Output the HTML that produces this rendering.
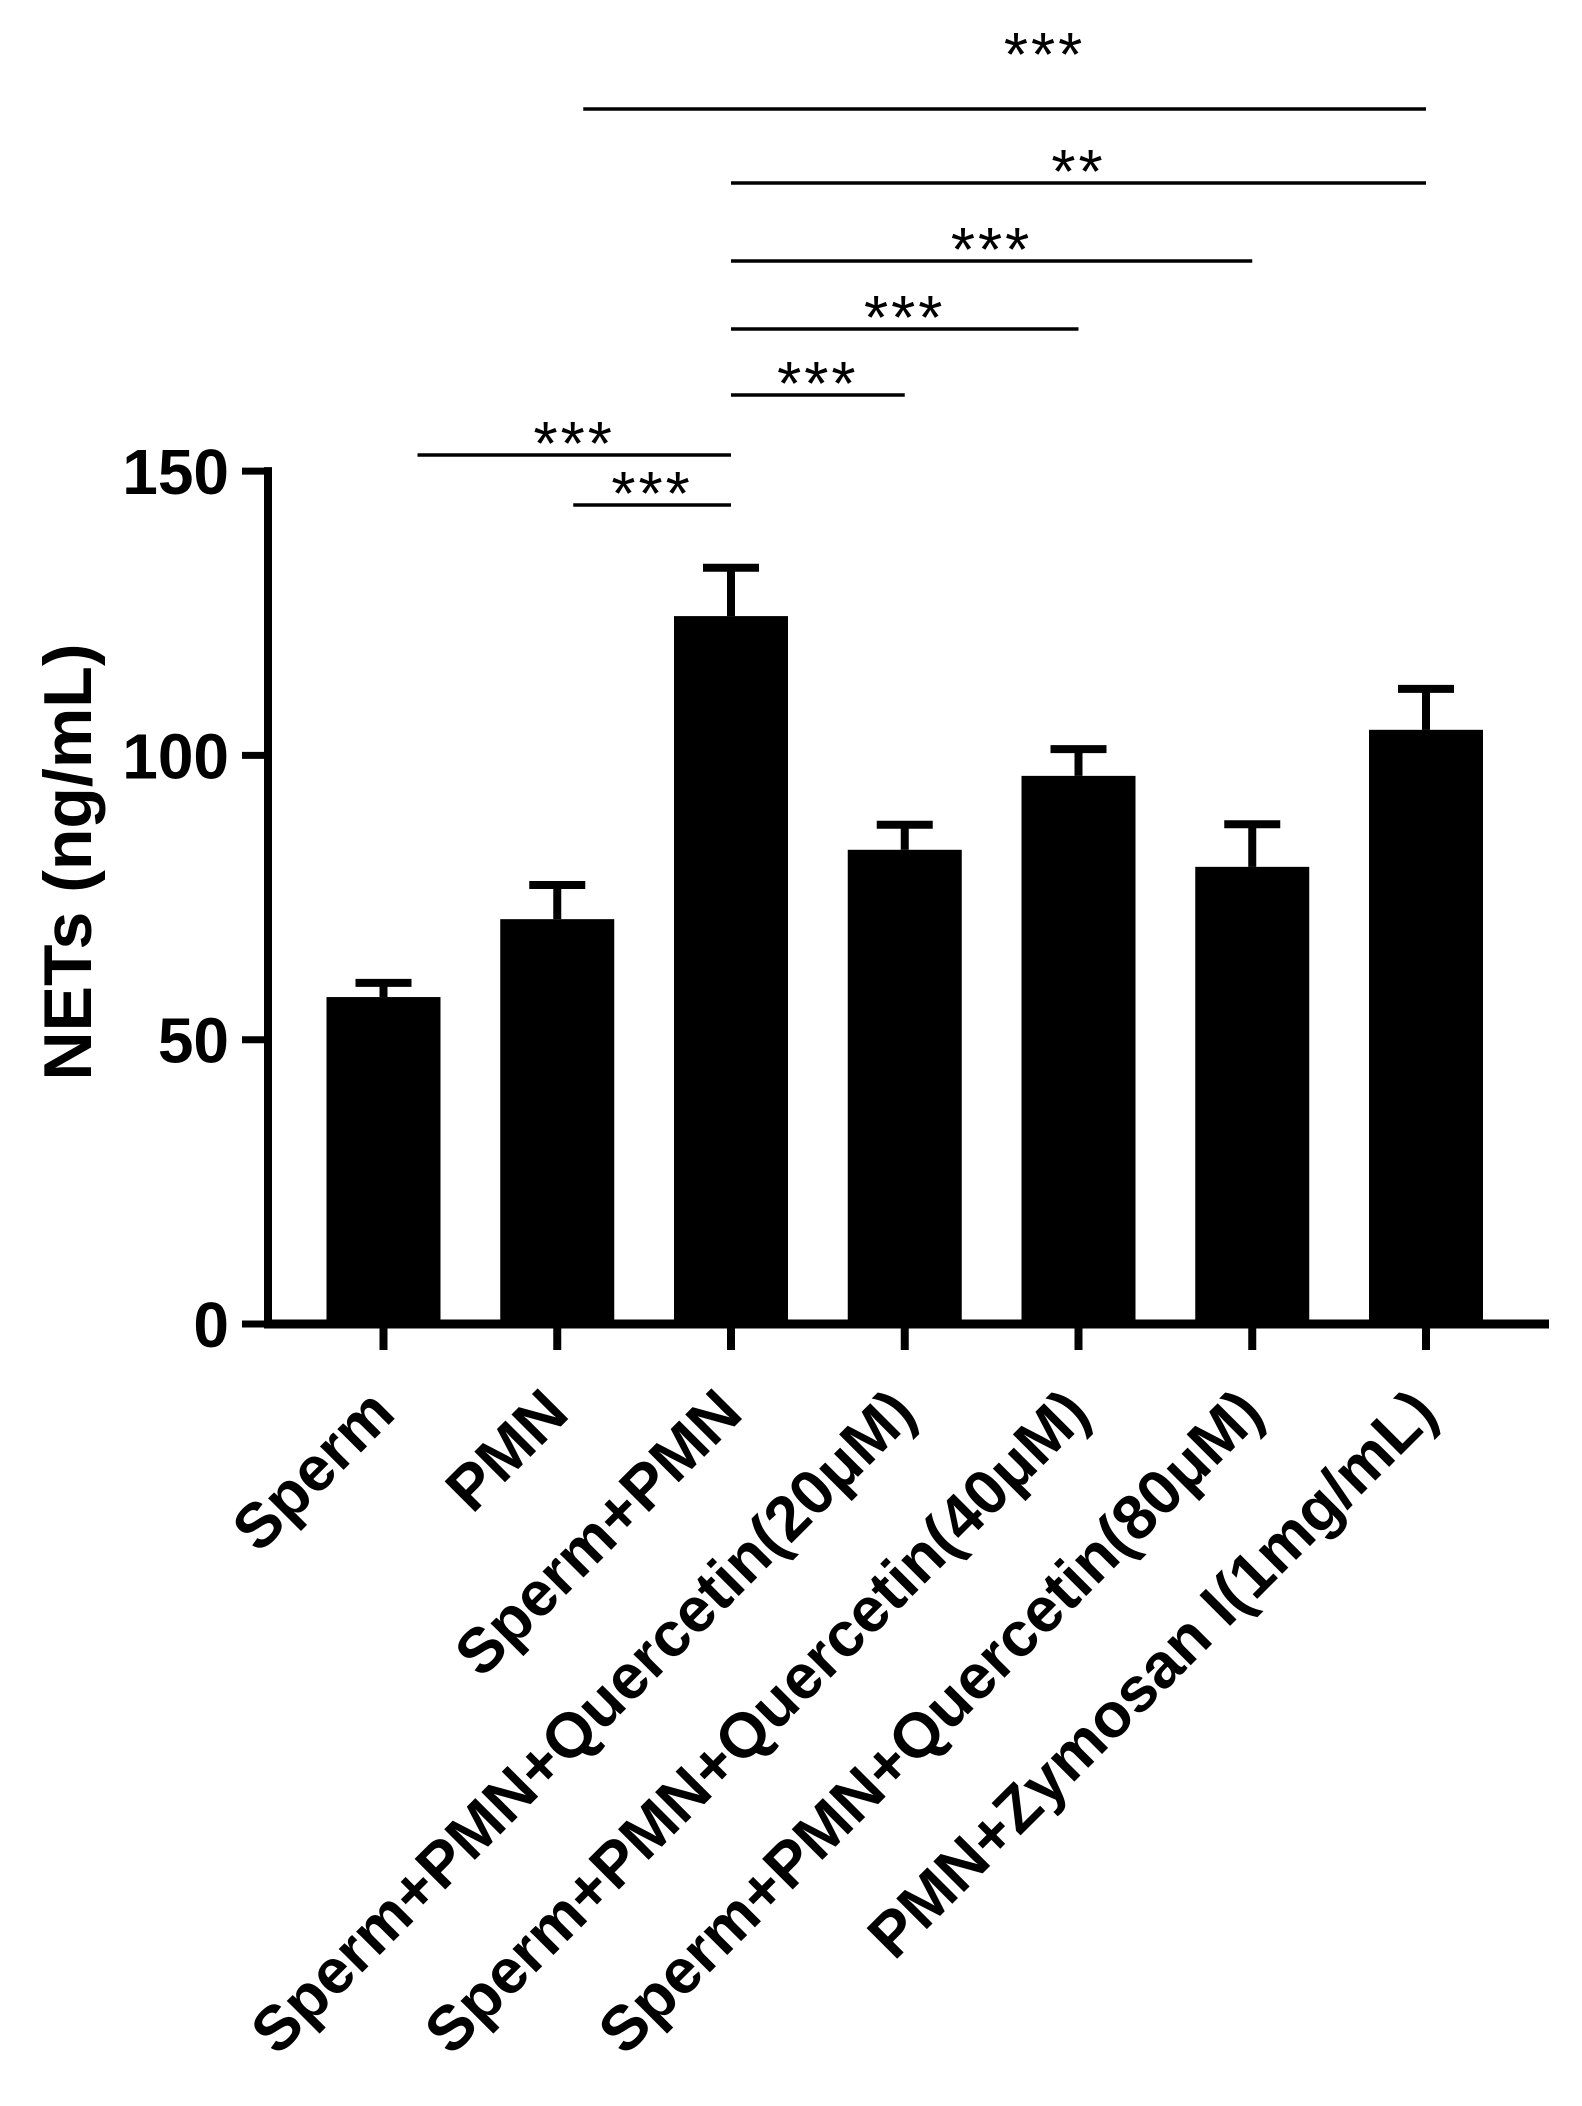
<!DOCTYPE html>
<html><head><meta charset="utf-8"><style>
html,body{margin:0;padding:0;background:#fff;}
svg{display:block;font-family:"Liberation Sans",Arial,sans-serif;}
</style></head><body>
<svg id="chart" width="1582" height="2106" viewBox="0 0 1582 2106" xmlns="http://www.w3.org/2000/svg">
<g id="plot"></g>
</svg>
<script>
const categories = ["Sperm","PMN","Sperm+PMN","Sperm+PMN+Quercetin(20μM)","Sperm+PMN+Quercetin(40μM)","Sperm+PMN+Quercetin(80μM)","PMN+Zymosan I(1mg/mL)"];
const means = [57.5, 71.2, 124.5, 83.4, 96.4, 80.4, 104.5];
const errs = [2.5, 6.0, 8.5, 4.4, 4.7, 7.5, 7.2];
const yTicks = [0, 50, 100, 150];
const sigFrom = [0, 1, 2, 2, 2, 2, 1];
const sigTo = [2, 2, 3, 4, 5, 6, 6];
const sigLabel = ["***", "***", "***", "***", "***", "**", "***"];

const NS = "http://www.w3.org/2000/svg";
const g = document.getElementById("plot");
const y0 = 1324, pxPer = 5.686;
const sigYpx = [455, 505, 395, 329, 261, 183, 109];
const sigPad = [34, 16, 0, 0, 0, 0, 26];
const sigLift = [0, 0, 0, 0, 0, 0, 43];
const sigShift = [0, 0, 0, 0, 0, 0, 40];
function yS(v){ return y0 - v * pxPer; }
function xS(i){ return 383.5 + i * 173.75; }
function el(tag, attrs, parent){
  const e = document.createElementNS(NS, tag);
  for (const k in attrs) e.setAttribute(k, attrs[k]);
  (parent || g).appendChild(e);
  return e;
}
const barW = 114, capW = 56;
categories.forEach((c, i) => {
  const cx = xS(i);
  const b = el("rect", {x: cx - barW/2, y: yS(means[i]), width: barW, height: y0 - yS(means[i]), fill: "#000"});
  
  
  const st = el("line", {x1: cx, x2: cx, y1: yS(means[i]), y2: yS(means[i] + errs[i]), stroke: "#000", "stroke-width": 8});
  
  
  const cap = el("line", {x1: cx - capW/2, x2: cx + capW/2, y1: yS(means[i] + errs[i]), y2: yS(means[i] + errs[i]), stroke: "#000", "stroke-width": 8});
  
  
  const tk = el("line", {x1: cx, x2: cx, y1: y0, y2: 1350, stroke: "#000", "stroke-width": 8});
  
  
  const t = el("text", {x: 0, y: 0, "font-size": 63, "font-weight": "bold", "text-anchor": "end", transform: "translate(" + (cx + 14) + ",1416) rotate(-45)"});
  t.textContent = c;
  
  
});
// axes
const ya = el("line", {x1: 268, x2: 268, y1: yS(150) - 4, y2: y0 + 4, stroke: "#000", "stroke-width": 8});


const xa = el("line", {x1: 264, x2: 1549, y1: y0, y2: y0, stroke: "#000", "stroke-width": 9});


yTicks.forEach(v => {
  const tk = el("line", {x1: 242, x2: 268, y1: yS(v), y2: yS(v), stroke: "#000", "stroke-width": 7});
  
  
  const t = el("text", {x: 229, y: yS(v) + 23, "font-size": 64, "font-weight": "bold", "text-anchor": "end"});
  t.textContent = String(v);
  
  
});
const yt = el("text", {x: 0, y: 0, "font-size": 68, "font-weight": "bold", "text-anchor": "middle", transform: "translate(91,862) rotate(-90)"});
yt.textContent = "NETs (ng/mL)";


// significance brackets
sigFrom.forEach((f, k) => {
  const x1 = xS(f) + sigPad[k], x2 = xS(sigTo[k]);
  const yy = sigYpx[k];
  const ln = el("line", {x1: x1, x2: x2, y1: yy, y2: yy, stroke: "#000", "stroke-width": 3.5});
  
  
  const t = el("text", {x: (x1 + x2) / 2 + sigShift[k], y: yy + 10 - sigLift[k], "font-size": 62, "letter-spacing": 3, "text-anchor": "middle"});
  t.textContent = sigLabel[k];
  
  
});
</script>
</body></html>
